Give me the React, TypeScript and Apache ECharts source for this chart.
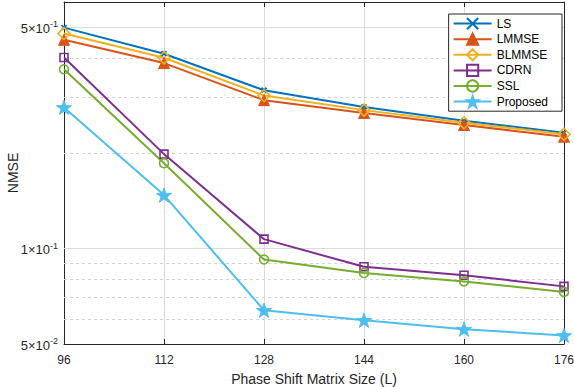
import React, { useEffect, useRef } from "react";
import * as echarts from "echarts";

const xValues = [96, 112, 128, 144, 160, 176];
const lsValues = [0.498, 0.412, 0.316, 0.28, 0.253, 0.232];
const lmmseValues = [0.456, 0.385, 0.294, 0.268, 0.2455, 0.2255];
const blmmseValues = [0.477, 0.4, 0.304, 0.2735, 0.2495, 0.2295];
const cdrnValues = [0.401, 0.1987, 0.1071, 0.0876, 0.0824, 0.076];
const sslValues = [0.368, 0.186, 0.0924, 0.0838, 0.0788, 0.073];
const proposedValues = [0.279, 0.1475, 0.0639, 0.0594, 0.0557, 0.0532];

const yMajorTicks = [0.05, 0.1, 0.5];
const yMinorGrid = [0.06, 0.07, 0.08, 0.09, 0.2, 0.3, 0.4];
const yMin = 0.05;
const yMax = 0.6;

const STAR =
  "path://M50,0 L61.8,35.1 L98.9,35.1 L68.8,57.3 L80.2,92.7 L50,70.8 L19.8,92.7 L31.2,57.3 L1.1,35.1 L38.2,35.1 Z";
const XMARK = "path://M0,0L10,10M10,0L0,10";

function pair(ys: number[]) {
  return xValues.map((x, i) => [x, ys[i]]);
}

function sciLabel(v: number) {
  const e = Math.floor(Math.log10(v) + 1e-9);
  const m = Math.round(v / Math.pow(10, e));
  return `{b|${m}×10}{s|${e}}`;
}

export default function App() {
  const ref = useRef<HTMLDivElement>(null);
  useEffect(() => {
    if (!ref.current) return;
    const chart = echarts.init(ref.current, null, { renderer: "svg" });
    const font = "'Liberation Sans', Arial, Helvetica, sans-serif";
    const axisColor = "#262626";

    const markData: any[] = [];
    yMajorTicks.forEach((v) => {
      markData.push({
        yAxis: v,
        lineStyle: {
          color: v === yMin ? "rgba(0,0,0,0)" : "#dcdcdc",
          type: "solid",
          width: 1,
        },
        label: {
          show: true,
          position: "start",
          distance: 6,
          formatter: (p: any) => sciLabel(p.value),
          rich: {
            b: { fontSize: 13, color: axisColor, fontFamily: font, verticalAlign: "bottom" },
            s: {
              fontSize: 9,
              color: axisColor,
              fontFamily: font,
              verticalAlign: "bottom",
              padding: [0, 0, 6, 0],
            },
          },
        },
      });
    });
    yMinorGrid.forEach((v) => {
      markData.push({
        yAxis: v,
        lineStyle: { color: "#d4d4d4", type: [3, 3], width: 1 },
        label: { show: false },
      });
    });

    const mk = (
      name: string,
      ys: number[],
      color: string,
      symbol: string,
      size: number,
      hollow: boolean,
      extra: any = {}
    ) => ({
      name,
      type: "line",
      data: pair(ys),
      symbol,
      symbolSize: size,
      symbolKeepAspect: true,
      showAllSymbol: true,
      lineStyle: { color, width: 2 },
      itemStyle: hollow
        ? { color: "rgba(255,255,255,0)", borderColor: color, borderWidth: 1.6 }
        : { color, borderColor: color, borderWidth: 1 },
      emphasis: { disabled: true },
      z: 3,
      ...extra,
    });

    chart.setOption({
      animation: false,
      backgroundColor: "#ffffff",
      textStyle: { fontFamily: font },
      grid: {
        left: 64,
        right: 10,
        top: 2,
        bottom: 43,
        containLabel: false,
        outerBoundsMode: "none",
      },
      legend: {
        orient: "vertical",
        right: 12,
        top: 14,
        backgroundColor: "#ffffff",
        borderColor: "#262626",
        borderWidth: 1,
        borderRadius: 0,
        padding: [3, 14, 3, 4],
        itemGap: 2.4,
        itemWidth: 38,
        itemHeight: 14,
        textStyle: { fontSize: 12, color: "#000", fontFamily: font },
        data: ["LS", "LMMSE", "BLMMSE", "CDRN", "SSL", "Proposed"],
      },
      xAxis: [
        {
          type: "value",
          min: 96,
          max: 176,
          interval: 16,
          name: "Phase Shift Matrix Size (L)",
          nameLocation: "middle",
          nameGap: 27,
          nameTextStyle: { fontSize: 14, color: axisColor, fontFamily: font, lineHeight: 15 },
          axisLine: { show: true, lineStyle: { color: axisColor, width: 1 } },
          axisTick: { show: true, inside: true, length: 5, lineStyle: { color: axisColor } },
          axisLabel: { fontSize: 12, color: axisColor, margin: 10, fontFamily: font },
          splitLine: { show: true, lineStyle: { color: "#dcdcdc", width: 1 } },
        },
        {
          type: "value",
          position: "top",
          min: 96,
          max: 176,
          interval: 16,
          axisLine: { show: true, lineStyle: { color: axisColor, width: 1 } },
          axisTick: { show: true, inside: true, length: 5, lineStyle: { color: axisColor } },
          axisLabel: { show: false },
          splitLine: { show: false },
        },
      ],
      yAxis: [
        {
          type: "log",
          min: yMin,
          max: yMax,
          name: "NMSE",
          nameLocation: "middle",
          nameGap: 44,
          nameTextStyle: { fontSize: 14, color: axisColor, fontFamily: font },
          axisLine: { show: true, lineStyle: { color: axisColor, width: 1 } },
          axisTick: { show: false },
          axisLabel: { show: false },
          splitLine: { show: false },
        },
        {
          type: "log",
          min: yMin,
          max: yMax,
          position: "right",
          axisLine: { show: true, lineStyle: { color: axisColor, width: 1 } },
          axisTick: { show: false },
          axisLabel: { show: false },
          splitLine: { show: false },
        },
      ],
      series: [
        mk("LS", lsValues, "#0072BD", XMARK, 5, false, {
          itemStyle: { color: "#0072BD", borderColor: "#0072BD", borderWidth: 1.8 },
          markLine: {
            silent: true,
            symbol: ["none", "none"],
            z: 1,
            animation: false,
            emphasis: { disabled: true },
            data: markData,
          },
        }),
        mk("LMMSE", lmmseValues, "#D95319", "triangle", 11, false),
        mk("BLMMSE", blmmseValues, "#EDB120", "diamond", 12, true),
        mk("CDRN", cdrnValues, "#7E2F8E", "rect", 8, true),
        mk("SSL", sslValues, "#77AC30", "circle", 9, true),
        mk("Proposed", proposedValues, "#4DBEEE", STAR, 15, false),
      ],
    });
    return () => chart.dispose();
  }, []);
  return (
    <div
      ref={ref}
      style={{ position: "fixed", left: 0, top: 0, width: 574, height: 387 }}
    />
  );
}
